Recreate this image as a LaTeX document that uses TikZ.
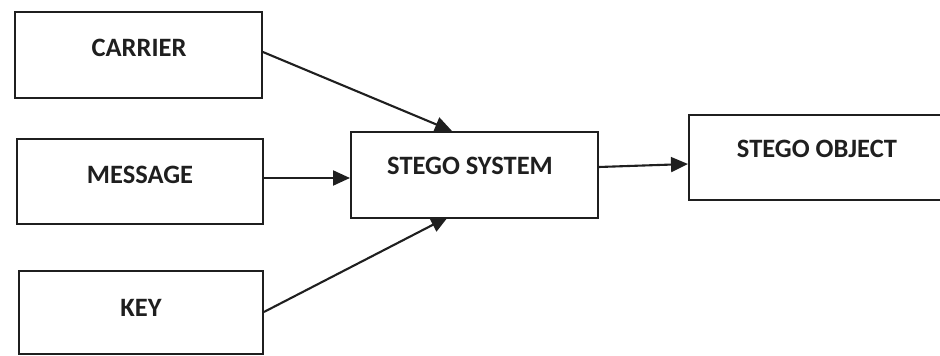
\documentclass[tikz,border=0pt]{standalone}
\usepackage{fontspec}
\setmainfont{Carlito}
\usetikzlibrary{arrows.meta}
\begin{document}
\begin{tikzpicture}[x=1pt,y=-1pt,
  blk/.style={draw=black!88,line width=1.9pt,rectangle,anchor=north west,inner sep=0pt},
  lbl/.style={font=\fontsize{26.5}{30}\selectfont\bfseries,text=black!88},
  conn/.style={draw=black!88,line width=2.1pt,-{Triangle[length=17pt,width=15pt]}}]
\useasboundingbox[fill=white] (0,0) rectangle (940,356);
\node[blk,minimum width=247pt,minimum height=86pt] (carrier) at (14,11) {};
\node[blk,minimum width=246pt,minimum height=85pt] (message) at (16,138) {};
\node[blk,minimum width=244pt,minimum height=83pt] (key) at (18,270) {};
\node[blk,minimum width=247pt,minimum height=86pt] (system) at (350,131) {};
\node[blk,minimum width=260pt,minimum height=85pt] (object) at (688,114) {};
\node[lbl] (tcarrier) at (139,48) {CARRIER};
\node[lbl] (tmessage) at (140,175) {MESSAGE};
\node[lbl] (tkey) at (141,308) {KEY};
\node[lbl] (tsystem) at (470,166) {STEGO SYSTEM};
\node[lbl] (tobject) at (817,149) {STEGO OBJECT};
\coordinate (sysTop) at (452,131);
\coordinate (sysBot) at (448,217);
\coordinate (c1) at (carrier.east |- 0,52);
\coordinate (k1) at (key.east |- 0,312);
\draw[conn] (c1) -- (sysTop);
\draw[conn] (message.east |- 0,178) -- (system.west |- 0,178);
\draw[conn] (k1) -- (sysBot);
\draw[conn] (system.east |- 0,167) -- (object.west |- 0,164);
\end{tikzpicture}
\end{document}
